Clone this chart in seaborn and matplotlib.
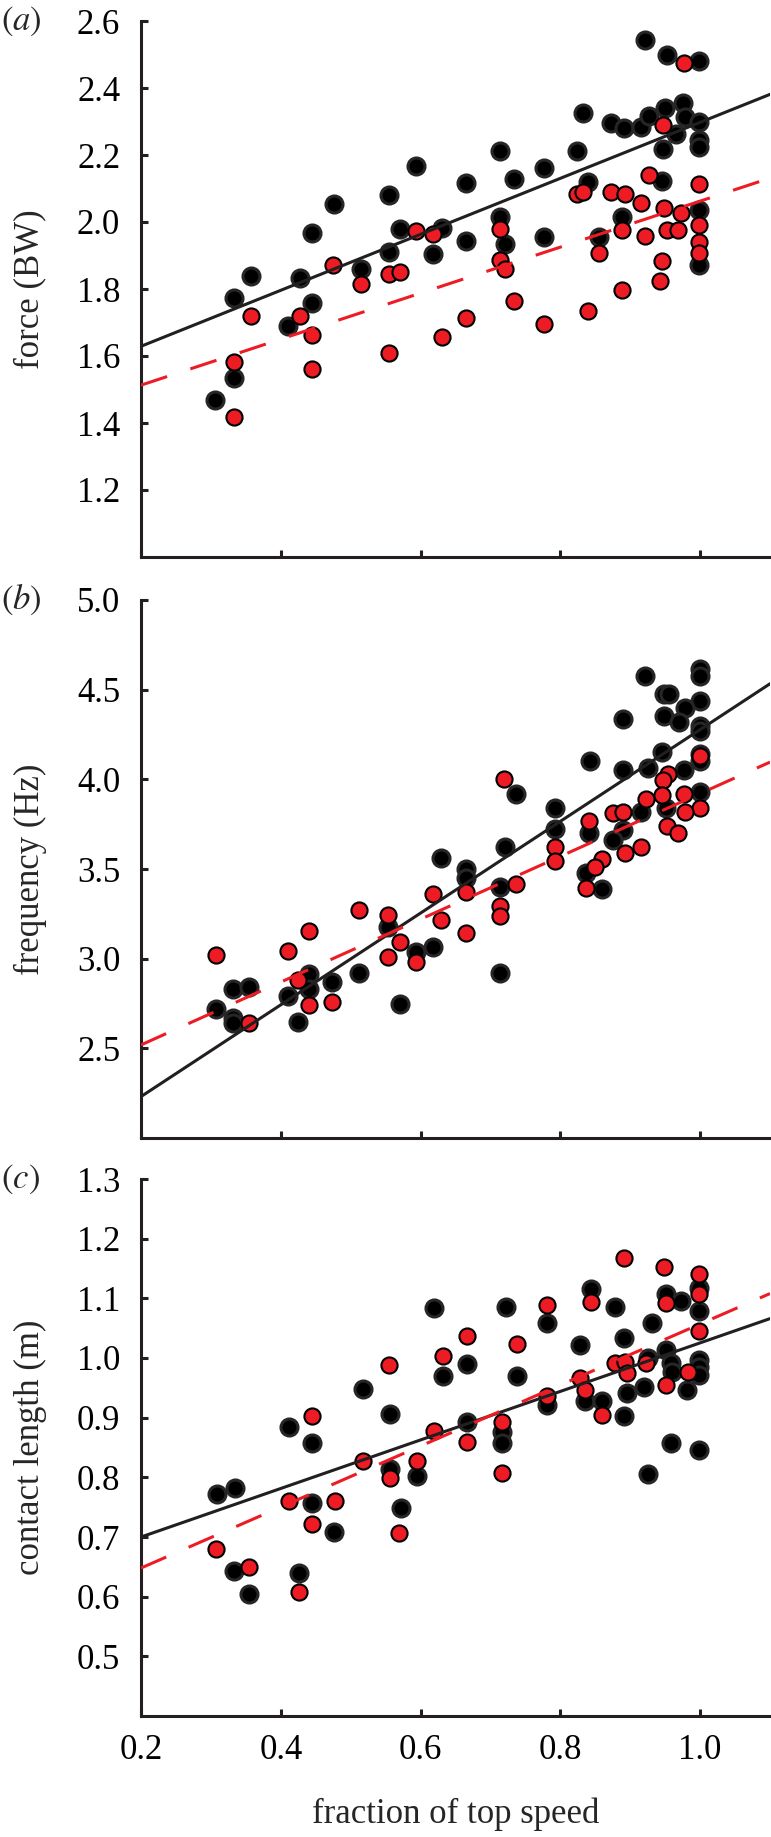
import matplotlib
matplotlib.use("Agg")
import matplotlib.pyplot as plt
from matplotlib.ticker import FormatStrFormatter
import numpy as np
import pandas as pd
import seaborn as sns

sns.set_style("ticks")
plt.rcParams['font.family'] = ['Liberation Serif', 'DejaVu Serif']
plt.rcParams['mathtext.fontset'] = 'stix'

# ---- (a) force ----
force_black_x = [0.921, 0.953, 0.998, 0.832, 0.873, 0.891, 0.916, 0.927, 0.950, 0.975, 0.978, 0.999,
                 0.966, 0.999, 0.999, 0.947, 0.713, 0.824, 0.594, 0.776, 0.665, 0.734, 0.840, 0.945,
                 0.555, 0.476, 0.998, 0.713, 0.888, 0.776, 0.998, 0.444, 0.571, 0.630, 0.665, 0.555,
                 0.618, 0.721, 0.855, 0.357, 0.428, 0.515, 0.333, 0.444, 0.410, 0.333, 0.306]
force_black_y = [2.543, 2.500, 2.480, 2.324, 2.297, 2.282, 2.285, 2.316, 2.341, 2.356, 2.313, 2.300,
                 2.262, 2.244, 2.225, 2.217, 2.212, 2.212, 2.167, 2.162, 2.117, 2.127, 2.120, 2.122,
                 2.080, 2.053, 2.035, 2.015, 2.015, 1.955, 1.871, 1.966, 1.980, 1.981, 1.943, 1.911,
                 1.905, 1.933, 1.955, 1.839, 1.834, 1.859, 1.774, 1.757, 1.691, 1.533, 1.470]
force_red_x = [0.977, 0.947, 0.824, 0.832, 0.927, 0.873, 0.893, 0.916, 0.998, 0.949, 0.973, 0.713,
               0.888, 0.921, 0.953, 0.968, 0.998, 0.998, 0.998, 0.594, 0.618, 0.713, 0.721, 0.855,
               0.945, 0.943, 0.888, 0.734, 0.475, 0.515, 0.555, 0.571, 0.357, 0.428, 0.444, 0.333,
               0.333, 0.444, 0.555, 0.631, 0.665, 0.776, 0.840]
force_red_y = [2.476, 2.291, 2.083, 2.090, 2.140, 2.090, 2.085, 2.058, 2.114, 2.043, 2.026, 1.978,
               1.975, 1.958, 1.976, 1.976, 1.991, 1.941, 1.908, 1.973, 1.963, 1.887, 1.860, 1.908,
               1.884, 1.824, 1.796, 1.765, 1.872, 1.816, 1.846, 1.852, 1.718, 1.718, 1.663, 1.582,
               1.419, 1.560, 1.609, 1.658, 1.713, 1.696, 1.735]
force_fit_black = [1.629, 2.381]
force_fit_red = [1.513, 2.131]

# ---- (b) frequency ----
freq_black_x = [0.921, 1.000, 1.000, 0.949, 0.956, 1.000, 0.979, 0.948, 0.970, 0.889, 1.000, 1.000,
                0.945, 1.000, 1.000, 0.842, 0.889, 0.926, 0.977, 0.736, 1.000, 0.951, 0.915, 0.793,
                0.793, 0.841, 0.889, 0.876, 0.721, 0.629, 0.665, 0.665, 0.837, 0.860, 0.713, 0.554,
                0.618, 0.594, 0.713, 0.512, 0.441, 0.473, 0.441, 0.410, 0.571, 0.331, 0.354, 0.307,
                0.331, 0.331, 0.425]
freq_black_y = [4.576, 4.616, 4.576, 4.474, 4.474, 4.437, 4.400, 4.354, 4.321, 4.336, 4.300, 4.270,
                4.155, 4.142, 4.100, 4.105, 4.053, 4.065, 4.053, 3.921, 3.930, 3.838, 3.819, 3.841,
                3.723, 3.700, 3.718, 3.662, 3.620, 3.561, 3.500, 3.450, 3.478, 3.386, 3.400, 3.176,
                3.065, 3.037, 2.922, 2.922, 2.917, 2.870, 2.833, 2.793, 2.750, 2.830, 2.843, 2.719,
                2.667, 2.639, 2.648]
freq_red_x = [1.000, 0.954, 0.947, 0.720, 0.922, 0.946, 0.977, 1.000, 0.978, 0.875, 0.889, 0.841,
              0.953, 0.968, 0.892, 0.916, 0.793, 0.793, 0.860, 0.849, 0.837, 0.736, 0.618, 0.665,
              0.713, 0.713, 0.512, 0.554, 0.629, 0.665, 0.571, 0.594, 0.554, 0.441, 0.410, 0.307,
              0.425, 0.441, 0.473, 0.354]
freq_red_y = [4.130, 4.031, 3.994, 4.004, 3.893, 3.911, 3.921, 3.838, 3.819, 3.810, 3.820, 3.768,
              3.742, 3.703, 3.589, 3.625, 3.620, 3.542, 3.555, 3.510, 3.395, 3.417, 3.360, 3.370,
              3.296, 3.237, 3.269, 3.241, 3.213, 3.144, 3.093, 2.981, 3.009, 3.154, 3.043, 3.022,
              2.880, 2.741, 2.759, 2.639]
freq_fit_black = [2.231, 4.533]
freq_fit_red = [2.519, 4.096]

# ---- (c) contact length ----
contact_black_x = [0.998, 0.998, 0.844, 0.878, 0.951, 0.973, 0.931, 0.891, 0.619, 0.722, 0.781, 0.828,
                   0.666, 0.632, 0.738, 0.517, 0.925, 0.951, 0.959, 0.960, 0.981, 0.998, 0.998, 0.998,
                   0.920, 0.895, 0.835, 0.859, 0.891, 0.781, 0.556, 0.412, 0.444, 0.666, 0.717, 0.717,
                   0.959, 0.998, 0.925, 0.556, 0.595, 0.572, 0.309, 0.334, 0.444, 0.476, 0.333, 0.426,
                   0.355]
contact_black_y = [1.118, 1.079, 1.116, 1.086, 1.107, 1.096, 1.058, 1.034, 1.083, 1.085, 1.058, 1.021,
                   0.990, 0.970, 0.970, 0.948, 1.000, 1.013, 0.992, 0.977, 0.947, 0.996, 0.985, 0.971,
                   0.952, 0.942, 0.928, 0.928, 0.903, 0.921, 0.906, 0.885, 0.857, 0.893, 0.876, 0.857,
                   0.857, 0.845, 0.806, 0.814, 0.803, 0.749, 0.772, 0.782, 0.757, 0.708, 0.643, 0.640,
                   0.604]
contact_red_x = [0.891, 0.948, 0.998, 0.998, 0.998, 0.844, 0.951, 0.781, 0.666, 0.738, 0.632, 0.555,
                 0.878, 0.892, 0.896, 0.922, 0.982, 0.951, 0.828, 0.835, 0.859, 0.781, 0.444, 0.619,
                 0.717, 0.666, 0.717, 0.517, 0.556, 0.595, 0.412, 0.478, 0.444, 0.569, 0.308, 0.355,
                 0.426]
contact_red_y = [1.168, 1.153, 1.141, 1.107, 1.046, 1.094, 1.092, 1.089, 1.037, 1.024, 1.003, 0.988,
                 0.992, 0.993, 0.975, 0.992, 0.977, 0.954, 0.966, 0.946, 0.904, 0.936, 0.903, 0.878,
                 0.893, 0.860, 0.808, 0.828, 0.799, 0.828, 0.760, 0.760, 0.722, 0.707, 0.680, 0.650,
                 0.607]
contact_fit_black = [0.700, 1.066]
contact_fit_red = [0.648, 1.108]

fit_x = [0.2, 1.1]
x_ticks = [0.2, 0.4, 0.6, 0.8, 1.0]

panels = [
    ("a", "force (BW)", (1.0, 2.6), np.arange(1.2, 2.61, 0.2),
     force_black_x, force_black_y, force_red_x, force_red_y, force_fit_black, force_fit_red),
    ("b", "frequency (Hz)", (2.0, 5.0), np.arange(2.5, 5.01, 0.5),
     freq_black_x, freq_black_y, freq_red_x, freq_red_y, freq_fit_black, freq_fit_red),
    ("c", "contact length (m)", (0.4, 1.3), np.arange(0.5, 1.31, 0.1),
     contact_black_x, contact_black_y, contact_red_x, contact_red_y, contact_fit_black, contact_fit_red),
]

W, H = 771, 1837
fig = plt.figure(figsize=(W / 100, H / 100), dpi=100)

# pixel boxes (top, bottom) of each panel
boxes = [(21, 557), (600, 1138), (1179, 1716)]
left_px, right_px = 141, 770

dark = "#231f20"
red = "#ED1C24"
fs = 25

for i, (letter, ylabel, ylim, yticks, xb, yb, xr, yr, fb, fr) in enumerate(panels):
    top, bot = boxes[i]
    ax = fig.add_axes([left_px / W, 1 - bot / H, (right_px - left_px) / W, (bot - top) / H])

    sns.scatterplot(x=xb, y=yb, ax=ax, color="black", edgecolor="#262626",
                    linewidth=2.2, s=150, zorder=3, clip_on=False)
    sns.scatterplot(x=xr, y=yr, ax=ax, color=red, edgecolor="black",
                    linewidth=1.5, s=135, zorder=3, clip_on=False)
    sns.lineplot(x=fit_x, y=fb, ax=ax, color=dark, lw=2.2, zorder=4)
    sns.lineplot(x=fit_x, y=fr, ax=ax, color=red, lw=2.2, zorder=4, linestyle=(0, (9, 8)))

    ax.set_xlim(0.2, 1.1)
    ax.set_ylim(*ylim)
    ax.set_xticks(x_ticks)
    ax.set_yticks(yticks)
    ax.xaxis.set_major_formatter(FormatStrFormatter("%.1f"))
    ax.yaxis.set_major_formatter(FormatStrFormatter("%.1f"))

    sns.despine(ax=ax)
    for sp in ["left", "bottom"]:
        ax.spines[sp].set_linewidth(2.2)
        ax.spines[sp].set_color(dark)

    ax.tick_params(axis="both", direction="in", length=5, width=2.2, color=dark,
                   labelsize=fs, labelcolor="black")
    ax.tick_params(axis="y", pad=15)
    ax.tick_params(axis="x", pad=13, labelbottom=(i == 2))

    ax.set_ylabel(ylabel, fontsize=fs)
    ax.yaxis.set_label_coords(-0.150, 0.5)
    if i == 2:
        ax.set_xlabel("fraction of top speed", fontsize=fs)
        ax.xaxis.set_label_coords(0.5, -0.151)
    else:
        ax.set_xlabel("")

    fig.text(0.001, 1 - top / H, r"$(\mathit{%s})$" % letter, fontsize=fs,
             ha="left", va="center")

plt.savefig("out.png", dpi=100)
